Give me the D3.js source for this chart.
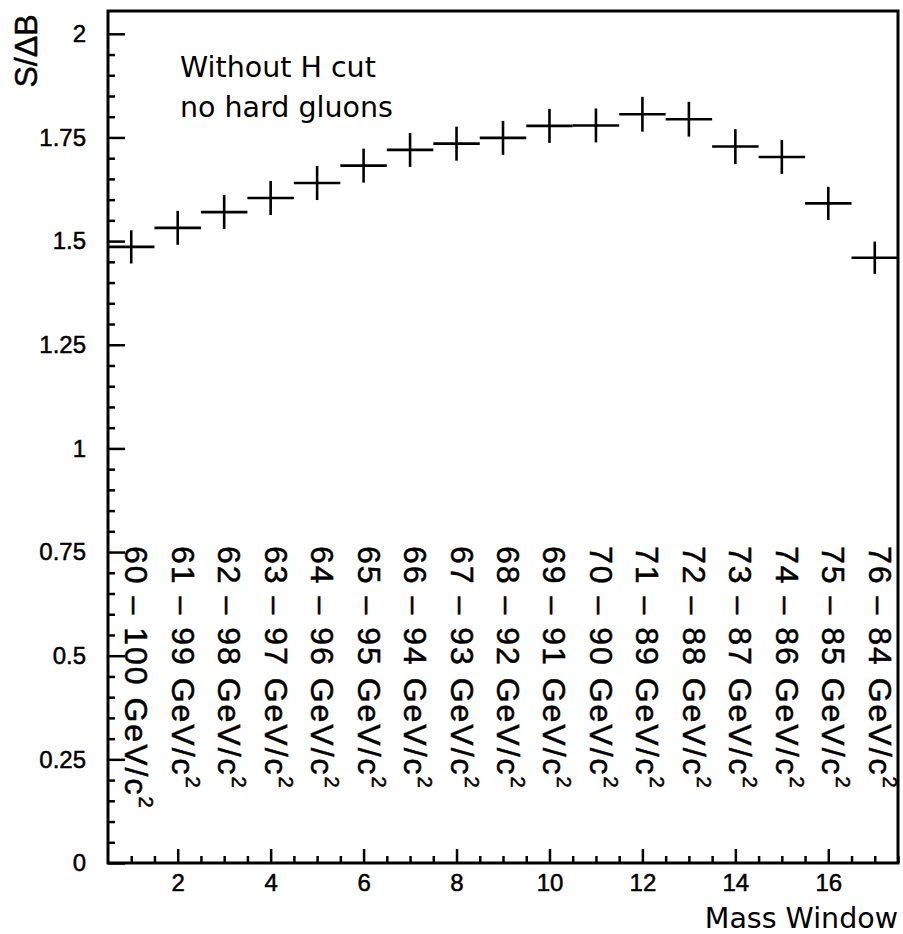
<!DOCTYPE html>
<html><head><meta charset="utf-8">
<script src="https://cdn.jsdelivr.net/npm/d3@7"></script>
<style>body{margin:0;background:#fff}</style>
</head><body><svg id="c" width="903" height="934"></svg>
<script>
const massWindow = [1,2,3,4,5,6,7,8,9,10,11,12,13,14,15,16,17];
const massLow  = [60,61,62,63,64,65,66,67,68,69,70,71,72,73,74,75,76];
const massHigh = [100,99,98,97,96,95,94,93,92,91,90,89,88,87,86,85,84];
const sOverDeltaB = [1.486,1.532,1.570,1.604,1.640,1.682,1.720,1.735,1.749,1.778,1.779,1.806,1.794,1.728,1.703,1.591,1.460];
const sOverDeltaBErr = [0.040,0.041,0.041,0.041,0.041,0.041,0.041,0.041,0.041,0.041,0.041,0.042,0.042,0.042,0.041,0.040,0.039];
const yTickValues = [0,0.25,0.5,0.75,1,1.25,1.5,1.75,2];
const yTickLabels = ["0","0.25","0.5","0.75","1","1.25","1.5","1.75","2"];
const xTickValues = [2,4,6,8,10,12,14,16];
const annotationLines = ["Without H cut","no hard gluons"];
const xTitle = "Mass Window";
const yTitle = "S/\u0394B";

const L=108, R=898, T=11, B=863;
const svg = d3.select("#c");
const x = d3.scaleLinear().domain([0.5,17.5]).range([L,R]);
const y = d3.scaleLinear().domain([0,2.055]).range([B,T]);

const tickFont = "Liberation Sans, Arial, Helvetica, sans-serif";
const heavy = s => s.attr("stroke","#000").attr("stroke-width",0.5);

// minor y ticks
const yMinor = d3.range(0,2.0001,0.05).filter(v => !yTickValues.some(t => Math.abs(t-v)<1e-6));
svg.append("g").attr("transform",`translate(${L},0)`)
  .call(d3.axisLeft(y).tickValues(yMinor).tickSize(-7).tickFormat(""))
  .call(g=>g.select(".domain").remove())
  .call(g=>g.selectAll("line").attr("stroke","#000").attr("stroke-width",2.5));
// major y ticks
svg.append("g").attr("transform",`translate(${L},0)`)
  .call(d3.axisLeft(y).tickValues(yTickValues).tickSize(-17).tickPadding(22)
        .tickFormat((d,i)=>yTickLabels[i]))
  .call(g=>g.select(".domain").remove())
  .call(g=>g.selectAll("line").attr("stroke","#000").attr("stroke-width",2.5))
  .call(g=>g.selectAll("text").attr("font-family",tickFont).attr("font-size",24).attr("fill","#000").call(heavy));

// minor x ticks
const xMinor = d3.range(1,17.5001,0.5).filter(v => !xTickValues.includes(v));
svg.append("g").attr("transform",`translate(0,${B})`)
  .call(d3.axisBottom(x).tickValues(xMinor).tickSize(-7).tickFormat(""))
  .call(g=>g.select(".domain").remove())
  .call(g=>g.selectAll("line").attr("stroke","#000").attr("stroke-width",2.5));
// major x ticks
svg.append("g").attr("transform",`translate(0,${B})`)
  .call(d3.axisBottom(x).tickValues(xTickValues).tickSize(-14).tickPadding(11).tickFormat(d3.format("d")))
  .call(g=>g.select(".domain").remove())
  .call(g=>g.selectAll("line").attr("stroke","#000").attr("stroke-width",2.5))
  .call(g=>g.selectAll("text").attr("font-family",tickFont).attr("font-size",24).attr("fill","#000").call(heavy));

// frame
svg.append("rect").attr("x",L).attr("y",T).attr("width",R-L).attr("height",B-T)
  .attr("fill","none").attr("stroke","#000").attr("stroke-width",3);

// data crosses
const pts = massWindow.map((m,i)=>({m, v:sOverDeltaB[i], e:sOverDeltaBErr[i]}));
const gp = svg.append("g").attr("stroke","#000").attr("stroke-width",2.6);
gp.selectAll("line.h").data(pts).join("line").attr("class","h")
  .attr("x1",d=>x(d.m-0.5)).attr("x2",d=>x(d.m+0.5))
  .attr("y1",d=>y(d.v)).attr("y2",d=>y(d.v));
gp.selectAll("line.v").data(pts).join("line").attr("class","v")
  .attr("x1",d=>x(d.m)).attr("x2",d=>x(d.m))
  .attr("y1",d=>y(d.v-d.e)).attr("y2",d=>y(d.v+d.e));

// rotated mass window labels
const lg = svg.append("g").selectAll("g").data(massWindow).join("g")
  .attr("transform",(d)=>`translate(${x(d)-6},546) rotate(90)`);
const lt = lg.append("text").attr("font-family",tickFont).attr("font-size",32)
  .attr("letter-spacing",2).attr("fill","#000").attr("text-anchor","start").call(heavy);
lt.append("tspan").text((d,i)=>`${massLow[i]} \u2013 ${massHigh[i]} GeV/c`);
lt.append("tspan").attr("dy",-14).attr("font-size",20).text("2");

// annotation
const annFont = "DejaVu Sans, sans-serif";
svg.append("g").selectAll("text").data(annotationLines).join("text")
  .attr("x",180).attr("y",(d,i)=>77+i*40)
  .attr("font-family",annFont).attr("font-size",28.5).attr("fill","#000").text(d=>d);

// axis titles
svg.append("text").attr("x",R).attr("y",928).attr("text-anchor","end")
  .attr("font-family",annFont).attr("font-size",28.5).attr("fill","#000").text(xTitle);
svg.append("text").attr("transform","translate(37,51) rotate(-90)").attr("text-anchor","middle")
  .attr("font-family",tickFont).attr("font-size",32).attr("fill","#000").call(heavy).text(yTitle);
</script>
</body></html>
